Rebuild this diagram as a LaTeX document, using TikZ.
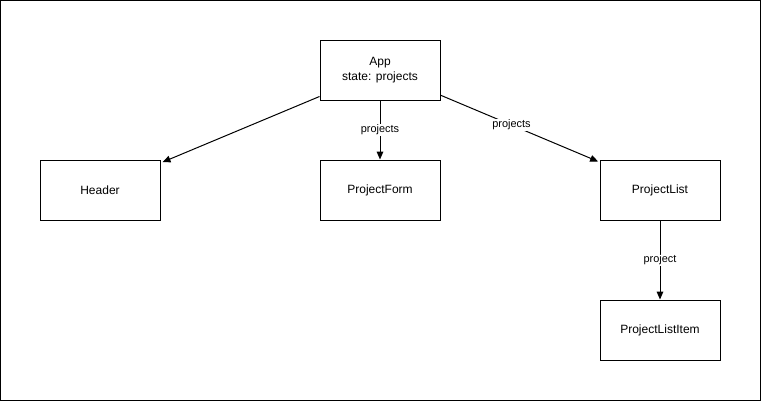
\documentclass[tikz,border=0pt]{standalone}
\usepackage{fontspec}
\setmainfont{Liberation Sans}
\usetikzlibrary{arrows.meta}

\begin{document}
\begin{tikzpicture}[x=0.75pt,y=-0.75pt,>={Triangle[length=6pt,width=5pt]},line width=0.75pt,
    comp/.style={draw, minimum width=90pt, minimum height=45pt, inner sep=0pt, align=center, font=\fontsize{9}{11}\selectfont},
    lbl/.style={fill=white, inner sep=1pt, font=\fontsize{8.2}{10}\selectfont} ]

        \useasboundingbox (0,0) rectangle (761,401);
        \draw (0.5,0.5) rectangle (760.5,400.5);

        \node[comp] (app) at (380,70) {App\\state: projects};
        \node[comp] (header) at (100,190) {Header};
        \node[comp] (form) at (380,190) {ProjectForm};
        \node[comp] (list) at (660,190) {ProjectList};
        \node[comp] (item) at (660,330) {ProjectListItem};

        \draw[->] ([yshift=3pt]app.south west) -- ([xshift=1.5pt,yshift=-2pt]header.north east);
        \draw[->] (app.south) -- node[lbl] {projects} (form.north);
        \draw[->] ([yshift=4pt]app.south east) -- node[lbl,pos=0.45] {projects} ([xshift=-1pt,yshift=-1.5pt]list.north west);
        \draw[->] (list.south) -- node[lbl] {project} (item.north);

    \end{tikzpicture}
\end{document}
